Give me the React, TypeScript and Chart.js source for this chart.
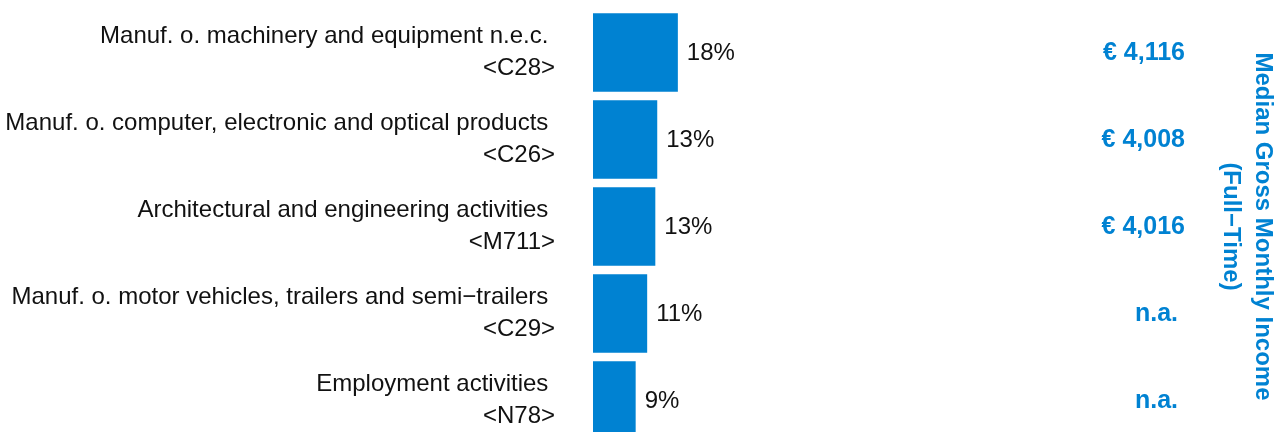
import React, { useEffect, useRef } from "react";
import { Chart, registerables } from "chart.js";

Chart.register(...registerables);

const categoryNames: string[] = [
  "Manuf. o. machinery and equipment n.e.c. ",
  "Manuf. o. computer, electronic and optical products ",
  "Architectural and engineering activities ",
  "Manuf. o. motor vehicles, trailers and semi\u2212trailers ",
  "Employment activities ",
];
const categoryCodes: string[] = ["<C28>", "<C26>", "<M711>", "<C29>", "<N78>"];
const shareValues: number[] = [17.7, 13.4, 13.0, 11.3, 8.9];
const incomeLabels: string[] = ["\u20ac 4,116", "\u20ac 4,008", "\u20ac 4,016", "n.a. ", "n.a. "];
const incomeTitle: string[] = ["Median Gross Monthly Income", "(Full\u2212Time)"];

const BLUE = "#0082D2";
const FONT = '"Liberation Sans", Arial, Helvetica, sans-serif';
const INCOME_FONT = `bold 25px ${FONT}`;
const INCOME_PAD = 10;

export default function App() {
  const canvasRef = useRef<HTMLCanvasElement | null>(null);

  useEffect(() => {
    if (!canvasRef.current) return;
    const valueLabels = {
      id: "valueLabels",
      afterDatasetsDraw(chart: any) {
        const { ctx } = chart;
        const meta = chart.getDatasetMeta(0);
        ctx.save();
        ctx.font = `24px ${FONT}`;
        ctx.fillStyle = "#111111";
        ctx.textAlign = "left";
        ctx.textBaseline = "middle";
        meta.data.forEach((bar: any, i: number) => {
          ctx.fillText(Math.round(shareValues[i]) + "%", bar.x + 9, bar.y + 1);
        });
        // income labels, right-aligned inside the right axis label column
        const y2 = chart.scales.y2;
        ctx.font = INCOME_FONT;
        ctx.fillStyle = BLUE;
        ctx.textAlign = "right";
        const widest = Math.max(...incomeLabels.map((t) => ctx.measureText(t).width));
        const xRight = y2.left + INCOME_PAD + widest;
        incomeLabels.forEach((t, i) => {
          ctx.fillText(t, xRight, y2.getPixelForValue(i) + 1);
        });
        ctx.restore();
      },
    };

    const noVerticalPad = (scale: any) => {
      scale.paddingTop = 0;
      scale.paddingBottom = 0;
    };

    const chart = new Chart(canvasRef.current, {
      type: "bar",
      data: {
        labels: categoryNames.map((n, i) => [n, categoryCodes[i]]),
        datasets: [
          {
            data: shareValues,
            backgroundColor: BLUE,
            borderWidth: 0,
            barPercentage: 0.905,
            categoryPercentage: 1,
            xAxisID: "x",
            yAxisID: "y",
          },
        ],
      },
      options: {
        indexAxis: "y",
        animation: false,
        responsive: true,
        maintainAspectRatio: false,
        layout: { padding: { top: 9, bottom: 2, left: 0, right: 5 } },
        plugins: {
          legend: { display: false },
          tooltip: { enabled: false },
        },
        scales: {
          x: {
            type: "linear",
            min: 0,
            max: 104,
            display: false,
          },
          y: {
            type: "category",
            position: "left",
            grid: { display: false, drawTicks: false },
            border: { display: false },
            ticks: {
              autoSkip: false,
              padding: 38,
              color: "#111111",
              font: { family: FONT, size: 24, lineHeight: 1.35 },
            },
            afterFit: (scale: any) => {
              scale.width = 593;
              noVerticalPad(scale);
            },
          },
          y2: {
            type: "category",
            position: "right",
            labels: incomeLabels,
            offset: true,
            grid: { display: false, drawTicks: false },
            border: { display: false },
            ticks: {
              autoSkip: false,
              padding: INCOME_PAD,
              color: "rgba(0,0,0,0)",
              font: { family: FONT, size: 25, weight: "bold" },
            },
            title: {
              display: true,
              text: incomeTitle,
              color: BLUE,
              font: { family: FONT, size: 24, weight: "bold", lineHeight: 32 / 24 },
              padding: { top: 0, bottom: 20 },
            },
            afterFit: noVerticalPad,
          },
        },
      },
      plugins: [valueLabels],
    } as any);

    return () => chart.destroy();
  }, []);

  return (
    <div style={{ position: "fixed", left: 0, top: 0, width: 1284, height: 432, overflow: "hidden", background: "#ffffff" }}>
      <div style={{ position: "absolute", left: 0, top: 0, width: 1284, height: 446 }}>
        <canvas ref={canvasRef} />
      </div>
    </div>
  );
}
